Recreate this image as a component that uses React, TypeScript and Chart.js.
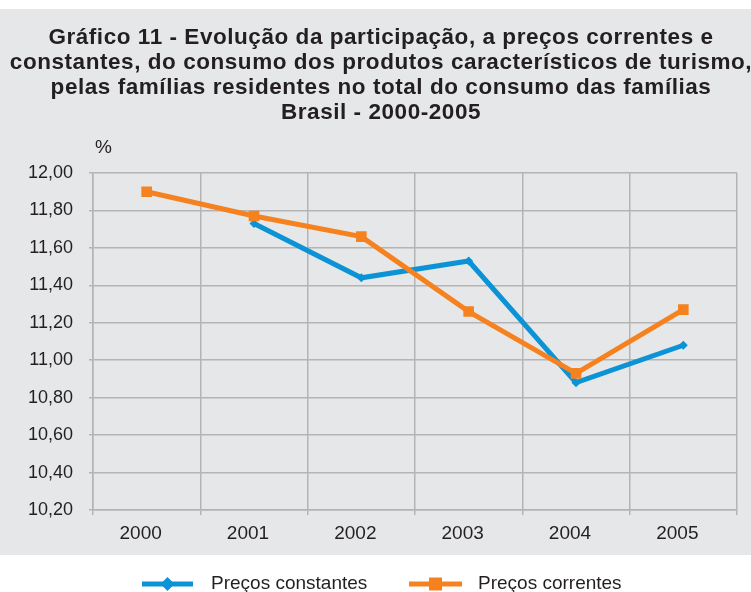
import React, { useEffect, useRef } from "react";
import { Chart, registerables } from "chart.js";

Chart.register(...registerables);

const categories = ["2000", "2001", "2002", "2003", "2004", "2005"];
const precosConstantes = [null, 11.73, 11.44, 11.53, 10.88, 11.08];
const precosCorrentes = [11.9, 11.77, 11.66, 11.26, 10.93, 11.27];
const titleLines = [
  "Gráfico 11 - Evolução da participação, a preços correntes e",
  "constantes, do consumo dos produtos característicos de turismo,",
  "pelas famílias residentes no total do consumo das famílias",
  "Brasil - 2000-2005",
];
const seriesNames = ["Preços constantes", "Preços correntes"];
const unitLabel = "%";

const BLUE = "#0b93d6";
const ORANGE = "#f5821f";
const TEXT = "#231f20";
const GRID = "#b4b4b6";
const FONT = "'Liberation Sans', Arial, sans-serif";

const decorPlugin = {
  id: "decor",
  beforeDraw(chart: any) {
    const { ctx, width, height } = chart;
    ctx.save();
    ctx.fillStyle = "#ffffff";
    ctx.fillRect(0, 0, width, height);
    ctx.fillStyle = "#e6e7e8";
    ctx.fillRect(0, 9, width, 546);
    ctx.fillStyle = TEXT;
    ctx.textAlign = "center";
    ctx.textBaseline = "middle";
    ctx.font = `bold 22.5px ${FONT}`;
    (ctx as any).letterSpacing = "0.55px";
    titleLines.forEach((t, i) => ctx.fillText(t, 381, 37.5 + i * 25));
    (ctx as any).letterSpacing = "0px";
    ctx.font = `19px ${FONT}`;
    ctx.textAlign = "left";
    ctx.fillText(unitLabel, 95, 148);
    ctx.restore();
  },
  afterDraw(chart: any) {
    const { ctx } = chart;
    const y = 584;
    const items = [
      { x0: 142, x1: 193, tx: 211, color: BLUE, shape: "diamond", label: seriesNames[0] },
      { x0: 409, x1: 462, tx: 478, color: ORANGE, shape: "square", label: seriesNames[1] },
    ];
    ctx.save();
    items.forEach((it) => {
      ctx.strokeStyle = it.color;
      ctx.fillStyle = it.color;
      ctx.lineWidth = 5;
      ctx.beginPath();
      ctx.moveTo(it.x0, y);
      ctx.lineTo(it.x1, y);
      ctx.stroke();
      const cx = (it.x0 + it.x1) / 2;
      ctx.beginPath();
      if (it.shape === "diamond") {
        ctx.moveTo(cx - 7, y);
        ctx.lineTo(cx, y - 7);
        ctx.lineTo(cx + 7, y);
        ctx.lineTo(cx, y + 7);
        ctx.closePath();
      } else {
        ctx.rect(cx - 6.5, y - 6.5, 13, 13);
      }
      ctx.fill();
      ctx.fillStyle = TEXT;
      ctx.font = `19px ${FONT}`;
      ctx.textAlign = "left";
      ctx.textBaseline = "middle";
      ctx.fillText(it.label, it.tx, y);
    });
    ctx.restore();
  },
};

export default function App() {
  const ref = useRef<HTMLCanvasElement>(null);
  useEffect(() => {
    if (!ref.current) return;
    const chart = new Chart(ref.current, {
      type: "line",
      data: {
        labels: categories,
        datasets: [
          {
            label: seriesNames[0],
            data: precosConstantes,
            borderColor: BLUE,
            backgroundColor: BLUE,
            borderWidth: 5,
            pointStyle: "rectRot",
            pointRadius: 4.5,
            pointBorderWidth: 0,
            order: 1,
            tension: 0,
          },
          {
            label: seriesNames[1],
            data: precosCorrentes,
            borderColor: ORANGE,
            backgroundColor: ORANGE,
            borderWidth: 5,
            pointStyle: "rect",
            pointRadius: 7.5,
            pointBorderWidth: 0,
            order: 0,
            tension: 0,
          },
        ],
      },
      plugins: [decorPlugin],
      options: {
        animation: false,
        responsive: false,
        layout: { padding: { top: 173, left: 0, right: 14, bottom: 42 } },
        plugins: { legend: { display: false }, title: { display: false }, tooltip: { enabled: false } },
        scales: {
          x: {
            offset: true,
            grid: { offset: true, color: GRID, lineWidth: 1.5, tickLength: 5, drawOnChartArea: true },
            border: { color: GRID, width: 1.5 },
            ticks: { color: TEXT, font: { family: FONT, size: 19 }, padding: 7, labelOffset: -6 },
            afterFit: (s: any) => { s.height = 40; },
          },
          y: {
            min: 10.2,
            max: 12,
            grid: { color: GRID, lineWidth: 1.5, tickLength: 4 },
            border: { color: GRID, width: 1.5 },
            ticks: {
              stepSize: 0.2,
              color: TEXT,
              font: { family: FONT, size: 18 },
              padding: 16,
              callback: (v: any) => Number(v).toFixed(2).replace(".", ","),
            },
            afterFit: (s: any) => { s.width = 93; },
          },
        },
      },
    });
    return () => chart.destroy();
  }, []);
  return (
    <div style={{ position: "absolute", left: 0, top: 0, width: 751, height: 592 }}>
      <canvas ref={ref} width={751} height={592} />
    </div>
  );
}
